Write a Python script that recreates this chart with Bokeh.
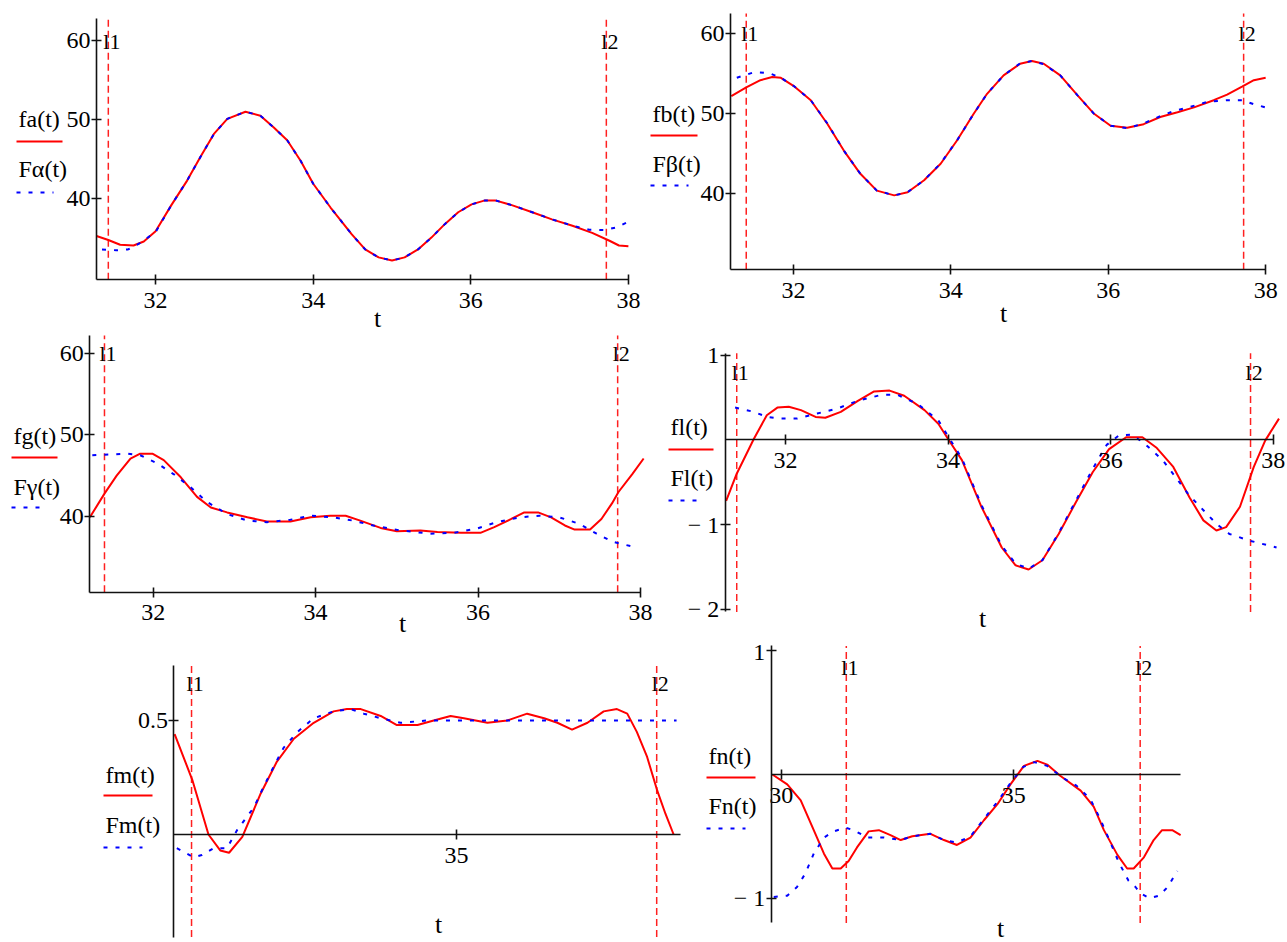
from bokeh.plotting import figure
from bokeh.models import Range1d, LinearAxis, FixedTicker
from bokeh.layouts import column, row
from bokeh.embed import file_html
from bokeh.resources import INLINE
from bokeh.core.properties import value

FONT = "Liberation Serif"
RED = "#ff0000"
BLUE = "#0000ff"
AXIS = "#111111"
MID = 0.34  # distance of the em-box centre above the baseline, in em

# cursor positions (dashed verticals) shared by all six panels
cursor_t = [31.4, 37.72]
cursor_names = ["l1", "l2"]

# ---------------- panel a ----------------
t_fa = [31.25, 31.4, 31.55, 31.72, 31.85, 32.0, 32.2, 32.4, 32.57, 32.74, 32.91, 33.14,
        33.33, 33.5, 33.67, 33.84, 34.0, 34.22, 34.49, 34.66, 34.83, 35.0, 35.16, 35.33,
        35.5, 35.67, 35.84, 36.01, 36.18, 36.31, 36.52, 36.78, 37.03, 37.29, 37.54, 37.76,
        37.88, 38.0]
fa = [35.3, 34.8, 34.2, 34.1, 34.6, 35.9, 39.2, 42.3, 45.3, 48.2, 50.1, 51.0,
      50.5, 49.0, 47.4, 44.8, 41.9, 38.9, 35.5, 33.6, 32.6, 32.2, 32.6, 33.6,
      35.1, 36.8, 38.3, 39.3, 39.8, 39.8, 39.2, 38.3, 37.4, 36.6, 35.7, 34.7,
      34.1, 34.0]
t_Fa = [31.32, 31.5, 31.65, 31.8, 32.0, 32.2, 32.4, 32.57, 32.74, 32.91, 33.14, 33.33,
        33.5, 33.67, 33.84, 34.0, 34.22, 34.49, 34.66, 34.83, 35.0, 35.16, 35.33, 35.5,
        35.67, 35.84, 36.01, 36.18, 36.31, 36.52, 36.78, 37.03, 37.29, 37.5, 37.7, 37.85, 38.0]
Fa = [33.6, 33.5, 33.6, 34.4, 35.8, 39.2, 42.3, 45.3, 48.2, 50.1, 51.0, 50.5,
      49.0, 47.4, 44.8, 41.9, 38.9, 35.5, 33.6, 32.6, 32.2, 32.6, 33.6, 35.1,
      36.8, 38.3, 39.3, 39.8, 39.8, 39.2, 38.3, 37.4, 36.6, 36.1, 36.05, 36.4, 37.1]
xticks_a = [32, 34, 36, 38]
xlabels_a = ["32", "34", "36", "38"]
yticks_a = [40, 50, 60]
ylabels_a = ["40", "50", "60"]

# ---------------- panel b ----------------
t_fb = [31.21, 31.4, 31.58, 31.73, 31.84, 32.0, 32.22, 32.43, 32.64, 32.85, 33.06, 33.28,
        33.45, 33.66, 33.87, 34.08, 34.29, 34.46, 34.67, 34.88, 35.03, 35.18, 35.39, 35.61,
        35.82, 36.03, 36.24, 36.45, 36.66, 36.88, 37.09, 37.34, 37.51, 37.7, 37.85, 38.0]
fb = [52.2, 53.3, 54.2, 54.6, 54.5, 53.5, 51.7, 48.75, 45.4, 42.5, 40.4, 39.8,
      40.2, 41.7, 43.75, 46.7, 50.0, 52.5, 54.8, 56.25, 56.6, 56.25, 54.8, 52.3,
      50.0, 48.5, 48.25, 48.7, 49.6, 50.2, 50.8, 51.7, 52.4, 53.4, 54.2, 54.5]
t_Fb = [31.28, 31.5, 31.69, 31.84, 32.0, 32.22, 32.43, 32.64, 32.85, 33.06, 33.28, 33.45,
        33.66, 33.87, 34.08, 34.29, 34.46, 34.67, 34.88, 35.03, 35.18, 35.39, 35.61, 35.82,
        36.03, 36.24, 36.45, 36.66, 36.85, 37.0, 37.26, 37.51, 37.7, 37.85, 38.0]
Fb = [54.5, 55.2, 55.1, 54.5, 53.5, 51.7, 48.8, 45.4, 42.5, 40.4, 39.8, 40.2,
      41.7, 43.8, 46.7, 50.0, 52.5, 54.8, 56.3, 56.6, 56.2, 54.8, 52.3, 50.0,
      48.5, 48.2, 48.8, 49.7, 50.4, 50.75, 51.5, 51.7, 51.7, 51.2, 50.8]
xticks_b = [32, 34, 36, 38]
xlabels_b = ["32", "34", "36", "38"]
yticks_b = [40, 50, 60]
ylabels_b = ["40", "50", "60"]

# ---------------- panel g ----------------
t_fg = [31.22, 31.4, 31.55, 31.72, 31.84, 31.99, 32.13, 32.34, 32.54, 32.71, 32.91, 33.16,
        33.4, 33.69, 33.94, 34.18, 34.37, 34.55, 34.8, 35.0, 35.29, 35.5, 35.79, 36.03,
        36.2, 36.41, 36.57, 36.74, 36.9, 37.07, 37.19, 37.38, 37.52, 37.65, 37.73, 37.9, 38.04]
fg = [39.9, 42.8, 45.0, 47.1, 47.7, 47.7, 46.9, 44.8, 42.4, 41.1, 40.5, 39.9,
      39.4, 39.4, 39.9, 40.1, 40.1, 39.5, 38.6, 38.2, 38.3, 38.1, 38.0, 38.0,
      38.7, 39.7, 40.5, 40.5, 39.9, 38.9, 38.4, 38.4, 39.7, 41.6, 43.0, 45.2, 47.1]
t_Fg = [31.25, 31.68, 31.84, 32.05, 32.25, 32.46, 32.66, 32.91, 33.16, 33.4, 33.69, 33.94,
        34.22, 34.46, 34.71, 35.04, 35.41, 35.7, 35.98, 36.23, 36.51, 36.76, 37.0, 37.25,
        37.46, 37.66, 37.91]
Fg = [47.5, 47.7, 47.5, 46.5, 45.2, 43.6, 41.8, 40.3, 39.5, 39.3, 39.6, 40.1,
      39.9, 39.5, 38.9, 38.3, 37.9, 38.0, 38.5, 39.3, 39.9, 40.1, 39.9, 39.1,
      37.9, 36.9, 36.3]
xticks_g = [32, 34, 36, 38]
xlabels_g = ["32", "34", "36", "38"]
yticks_g = [40, 50, 60]
ylabels_g = ["40", "50", "60"]

# ---------------- panel l ----------------
t_fl = [31.27, 31.4, 31.61, 31.77, 31.9, 32.04, 32.19, 32.37, 32.49, 32.68, 32.89, 33.09,
        33.28, 33.46, 33.71, 33.88, 34.0, 34.17, 34.41, 34.66, 34.83, 34.99, 35.16, 35.36,
        35.57, 35.78, 35.98, 36.19, 36.39, 36.56, 36.77, 36.97, 37.14, 37.3, 37.42, 37.59,
        37.76, 37.9, 38.07]
fl = [-0.72, -0.40, 0.01, 0.29, 0.38, 0.39, 0.35, 0.27, 0.26, 0.33, 0.46, 0.57,
      0.58, 0.52, 0.35, 0.19, 0.01, -0.24, -0.79, -1.27, -1.48, -1.53, -1.42, -1.11,
      -0.74, -0.38, -0.11, 0.03, 0.03, -0.09, -0.32, -0.68, -0.95, -1.07, -1.03, -0.79,
      -0.32, -0.01, 0.25]
t_Fl = [31.38, 31.61, 31.77, 31.94, 32.14, 32.39, 32.64, 32.89, 33.18, 33.38, 33.63, 33.88,
        34.0, 34.17, 34.41, 34.66, 34.83, 34.99, 35.16, 35.36, 35.57, 35.78, 35.95, 36.1,
        36.25, 36.4, 36.64, 36.97, 37.14, 37.3, 37.46, 37.71, 38.04]
Fl = [0.38, 0.33, 0.27, 0.25, 0.25, 0.31, 0.37, 0.46, 0.53, 0.53, 0.42, 0.23,
      0.04, -0.22, -0.77, -1.25, -1.46, -1.52, -1.42, -1.10, -0.72, -0.34, -0.06, 0.05,
      0.06, -0.03, -0.24, -0.66, -0.83, -0.99, -1.11, -1.19, -1.27]
xticks_l = [32, 34, 36, 38]
xlabels_l = ["32", "34", "36", "38"]
yticks_l = [-2, -1, 1]
ylabels_l = ["\u2212 2", "\u2212 1", "1"]

# ---------------- panel m ----------------
t_fm = [31.17, 31.41, 31.63, 31.79, 31.91, 32.09, 32.34, 32.56, 32.79, 33.06, 33.33, 33.51,
        33.7, 33.97, 34.19, 34.47, 34.69, 34.92, 35.1, 35.42, 35.69, 35.96, 36.19, 36.37,
        36.57, 36.78, 37.0, 37.18, 37.32, 37.45, 37.59, 37.73, 37.84, 37.95]
fm = [0.44, 0.24, 0.0, -0.07, -0.08, -0.01, 0.18, 0.32, 0.42, 0.49, 0.54, 0.55,
      0.55, 0.52, 0.48, 0.48, 0.50, 0.52, 0.51, 0.49, 0.50, 0.53, 0.51, 0.49,
      0.46, 0.49, 0.54, 0.55, 0.53, 0.45, 0.34, 0.19, 0.09, 0.0]
t_Fm = [31.2, 31.43, 31.54, 31.7, 31.88, 32.02, 32.25, 32.38, 32.52, 32.65, 32.84, 33.06,
        33.33, 33.56, 33.74, 33.97, 34.24, 34.6, 35.0, 35.5, 36.0, 36.5, 37.0, 37.5, 37.99]
Fm = [-0.06, -0.10, -0.09, -0.06, -0.06, 0.02, 0.12, 0.21, 0.30, 0.38, 0.45, 0.51,
      0.54, 0.55, 0.53, 0.51, 0.49, 0.50, 0.50, 0.50, 0.50, 0.50, 0.50, 0.50, 0.50]
xticks_m = [35]
xlabels_m = ["35"]
yticks_m = [0.5]
ylabels_m = ["0.5"]

# ---------------- panel n ----------------
t_fn = [29.81, 30.13, 30.42, 30.7, 30.92, 31.1, 31.28, 31.45, 31.63, 31.88, 32.1, 32.35,
        32.57, 32.82, 33.21, 33.5, 33.78, 34.07, 34.36, 34.65, 34.93, 35.22, 35.51, 35.72,
        36.0, 36.44, 36.72, 36.94, 37.23, 37.44, 37.58, 37.8, 38.01, 38.19, 38.41, 38.59]
fn = [0.0, -0.08, -0.21, -0.45, -0.64, -0.76, -0.76, -0.70, -0.59, -0.46, -0.45, -0.49,
      -0.53, -0.50, -0.48, -0.53, -0.57, -0.51, -0.37, -0.24, -0.08, 0.07, 0.11, 0.08,
      -0.01, -0.13, -0.26, -0.45, -0.65, -0.76, -0.76, -0.67, -0.53, -0.45, -0.45, -0.49]
t_Fn = [29.84, 30.13, 30.34, 30.52, 30.7, 30.92, 31.13, 31.38, 31.56, 31.85, 32.21, 32.57,
        32.82, 33.21, 33.5, 33.78, 34.07, 34.36, 34.65, 34.93, 35.2, 35.44, 35.72, 36.07,
        36.35, 36.65, 36.86, 37.08, 37.26, 37.47, 37.62, 37.72, 37.92, 38.13, 38.31, 38.52]
Fn = [-0.99, -0.98, -0.91, -0.80, -0.64, -0.51, -0.46, -0.43, -0.45, -0.51, -0.51, -0.53,
      -0.50, -0.48, -0.53, -0.55, -0.50, -0.36, -0.22, -0.07, 0.06, 0.10, 0.07, -0.03,
      -0.09, -0.20, -0.36, -0.55, -0.71, -0.86, -0.91, -0.96, -1.0, -0.98, -0.91, -0.78]
xticks_n = [30, 35]
xlabels_n = ["30", "35"]
yticks_n = [-1, 1]
ylabels_n = ["\u2212 1", "1"]


def style_axis(ax, ticks, labels, standoff):
    ax.ticker = FixedTicker(ticks=ticks)
    ax.major_label_overrides = {k: s for k, s in zip(ticks, labels)}
    ax.major_label_text_font = FONT
    ax.major_label_text_font_size = "24px"
    ax.major_label_text_color = "black"
    ax.major_label_standoff = standoff
    ax.major_tick_in = 5
    ax.major_tick_out = 5
    ax.minor_tick_in = 0
    ax.minor_tick_out = 0
    ax.axis_line_color = AXIS
    ax.axis_line_width = 1.6
    ax.major_tick_line_color = AXIS
    ax.major_tick_line_width = 1.6


def text_kw(size):
    return dict(text_font=value(FONT), text_font_size=f"{size}px",
                text_baseline="middle", text_color="black")


def make_panel(box, xscale, yscale, xlim, ylim, x_axis_at,
               t_red, v_red, t_blue, v_blue, names,
               xticks, xlabels, yticks, ylabels,
               legend, cursor_base, title_at):
    X0, Y0, W, H = box
    sx, t_anchor, px_anchor = xscale
    sy, v_anchor, py_anchor = yscale
    x_left = t_anchor - (px_anchor - X0) / sx
    y_top = v_anchor + (py_anchor - Y0) / sy

    def tx(px):
        return x_left + (px - X0) / sx

    def vy(py):
        return y_top - (py - Y0) / sy

    def mid(base, size):
        # centre line of a text whose baseline sits at page row `base`
        return vy(base - MID * size)

    p = figure(width=W, height=H,
               x_range=Range1d(x_left, x_left + W / sx),
               y_range=Range1d(y_top - H / sy, y_top),
               output_backend="svg", toolbar_location=None,
               x_axis_location=None, y_axis_location=None,
               min_border=0, outline_line_color=None,
               background_fill_color="white", border_fill_color="white")
    p.grid.visible = False

    xa = LinearAxis(fixed_location=x_axis_at, bounds=xlim)
    style_axis(xa, xticks, xlabels, 8)
    p.add_layout(xa, "below")
    ya = LinearAxis(fixed_location=xlim[0], bounds=ylim)
    style_axis(ya, yticks, ylabels, 1)
    p.add_layout(ya, "left")

    # cursors
    p.segment(x0=cursor_t, y0=[ylim[0]] * len(cursor_t), x1=cursor_t,
              y1=[ylim[1]] * len(cursor_t), line_color="#ff2020",
              line_width=1.5, line_dash="7 4")
    p.text(x=cursor_t, y=[mid(cursor_base, 22)] * len(cursor_t), text=cursor_names,
           x_offset=-5, text_align="left", **text_kw(22))

    # curves
    p.line(t_red, v_red, line_color=RED, line_width=2)
    p.line(t_blue, v_blue, line_color=BLUE, line_width=2, line_dash="4 8")

    # legend at the left of the panel
    lx, f_base, red_y, red_x2, F_base, blue_y, blue_x2 = legend
    p.text(x=[tx(lx), tx(lx)], y=[mid(f_base, 24), mid(F_base, 24)], text=names,
           text_align="left", **text_kw(24))
    p.line([tx(lx - 2), tx(red_x2)], [vy(red_y), vy(red_y)],
           line_color=RED, line_width=2)
    p.line([tx(lx - 2), tx(blue_x2)], [vy(blue_y), vy(blue_y)],
           line_color=BLUE, line_width=2, line_dash="4 8")

    # axis title
    p.text(x=[tx(title_at[0])], y=[mid(title_at[1], 26)], text=["t"],
           text_align="center", **text_kw(26))
    return p


pa = make_panel((0, 0, 645, 334), (78.8, 31.25, 96), (7.915, 40, 198.3),
                (31.25, 38.0), (29.77, 62.78), 29.77,
                t_fa, fa, t_Fa, Fa, ["fa(t)", "F\u03b1(t)"],
                xticks_a, xlabels_a, yticks_a, ylabels_a,
                (18, 127, 141, 62, 177, 192, 53), 48, (377, 327))

pb = make_panel((645, 0, 642, 334), (78.7, 31.2, 730), (8.0, 40, 193.3),
                (31.2, 38.0), (30.5, 62.54), 30.5,
                t_fb, fb, t_Fb, Fb, ["fb(t)", "F\u03b2(t)"],
                xticks_b, xlabels_b, yticks_b, ylabels_b,
                (652, 122, 135, 697, 172, 185, 688), 40, (1003, 322))

pg = make_panel((0, 334, 655, 304), (81.2, 32, 152.7), (8.165, 40, 516),
                (31.22, 38.0), (30.73, 62.17), 30.73,
                t_fg, fg, t_Fg, Fg, ["fg(t)", "F\u03b3(t)"],
                xticks_g, xlabels_g, yticks_g, ylabels_g,
                (13, 444, 457, 57, 495, 507, 47), 360, (402, 632))

pl = make_panel((655, 334, 632, 304), (81.3, 32, 785), (84.8, 0, 439.3),
                (31.26, 38.0), (-2.03, 1.02), 0,
                t_fl, fl, t_Fl, Fl, ["fl(t)", "Fl(t)"],
                xticks_l, xlabels_l, yticks_l, ylabels_l,
                (670, 435, 449, 713, 486, 500, 703), 379, (982, 627))

pm = make_panel((0, 638, 697, 304), (73.6, 35, 456), (228, 0, 834),
                (31.16, 38.05), (-0.45, 0.74), 0,
                t_fm, fm, t_Fm, Fm, ["fm(t)", "Fm(t)"],
                xticks_m, xlabels_m, yticks_m, ylabels_m,
                (105, 783, 795, 152, 833, 847, 142), 690, (438, 933))

pn = make_panel((697, 638, 590, 304), (46.5, 30, 780.7), (123.65, 0, 774),
                (29.785, 38.59), (-1.2, 1.04), 0,
                t_fn, fn, t_Fn, Fn, ["fn(t)", "Fn(t)"],
                xticks_n, xlabels_n, yticks_n, ylabels_n,
                (708, 764, 777, 755, 814, 828, 745), 674, (1000, 937))

layout = column(row(pa, pb, spacing=0), row(pg, pl, spacing=0),
                row(pm, pn, spacing=0), spacing=0)

open("out.html", "w").write(file_html(layout, INLINE))
